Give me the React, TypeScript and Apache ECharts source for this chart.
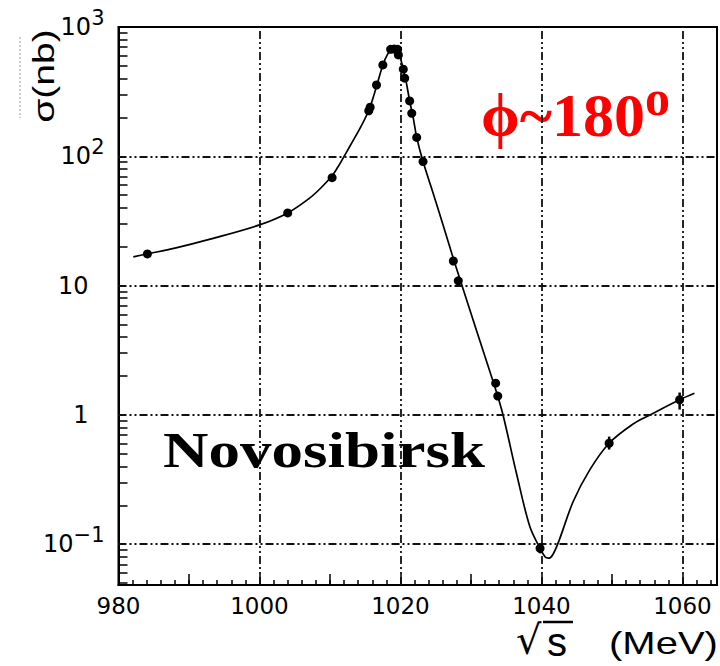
import React, { useEffect, useRef } from 'react';
import * as echarts from 'echarts';

// ---- axis ticks / labels ----
const xLabelTicks = [980, 1000, 1020, 1040, 1060];
const xMajorTicks = [980, 990, 1000, 1010, 1020, 1030, 1040, 1050, 1060];
const xMinorTicks: number[] = [];
for (let v = 980; v <= 1064; v += 2) xMinorTicks.push(v);
const xGridLines = [1000, 1020, 1040, 1060];

const yLabelTicks = [0.1, 1, 10, 100, 1000];
const yGridLines = [0.1, 1, 10, 100];
const yMinorTicks: number[] = [];
[0.01, 0.1, 1, 10, 100].forEach((d) => {
  for (let k = 2; k <= 9; k++) {
    const v = +(k * d).toPrecision(3);
    if (v >= 0.0484 && v < 1000) yMinorTicks.push(v);
  }
});

// ---- measured points (sqrt(s) in MeV, sigma in nb) ----
const pointX = [984.1, 1004.0, 1010.3, 1015.5, 1015.7, 1016.6, 1017.5, 1018.6, 1019.1, 1019.6, 1019.7,
  1020.4, 1020.6, 1021.3, 1021.6, 1022.3, 1023.2, 1027.5, 1028.2, 1033.5, 1033.8, 1039.8, 1049.6, 1059.6];
const pointY = [17.6, 36.5, 68.4, 225, 240, 356, 509, 672, 675, 672, 608,
  472, 402, 268, 215, 140, 91, 15.5, 10.9, 1.76, 1.40, 0.093, 0.604, 1.31];

// ---- error bars ----
const errX = [1039.8, 1049.6, 1059.6];
const errLow = [0.085, 0.54, 1.1];
const errHigh = [0.101, 0.68, 1.49];

// ---- fitted curve ----
const curveX = [982.1, 984.1, 988.0, 993.0, 1000.0, 1004.0, 1007.1, 1008.7, 1010.3, 1011.1, 1011.9, 1012.8,
  1014.5, 1015.6, 1016.6, 1017.5, 1018.2, 1018.8, 1019.3, 1019.8, 1020.4, 1020.8, 1021.3, 1021.8, 1022.3,
  1023.2, 1024.6, 1025.8, 1027.5, 1028.2, 1029.8, 1031.7, 1033.6, 1034.55, 1036.45, 1038.35, 1039.8,
  1040.5, 1041.0, 1041.6, 1042.5, 1044.5, 1046.85, 1049.6, 1053.0, 1055.4, 1059.6, 1061.7];
const curveY = [16.7, 17.6, 19.5, 22.9, 29.5, 36.5, 47.5, 56.9, 70.8, 82.2, 97.7, 119,
  174, 234, 347, 509, 620, 680, 690, 620, 472, 380, 268, 200, 140,
  91, 52.5, 32.4, 16.2, 12.3, 6.6, 3.16, 1.51, 1.0, 0.354, 0.137, 0.093,
  0.080, 0.078, 0.083, 0.107, 0.214, 0.376, 0.604, 0.85, 1.0, 1.31, 1.47];

const gridDash = [8, 3, 2, 3, 2, 3];

function yLabel(v: number): string {
  const e = Math.round(Math.log10(v));
  if (e === 3) return '{b|10}{s|3}';
  if (e === 2) return '{b|10}{s|2}';
  if (e === 1) return '{b|10}{p| }';
  if (e === 0) return '{b|1}{p| }';
  return '{b|10}{s|\u22121}';
}

export default function App() {
  const ref = useRef<HTMLDivElement>(null);
  useEffect(() => {
    if (!ref.current) return;
    const chart = echarts.init(ref.current, null, { renderer: 'svg' });
    const option: any = {
      animation: false,
      backgroundColor: '#fff',
      grid: {
        left: 118.5, top: 27, width: 598.5, height: 558,
        show: true, borderColor: '#000', borderWidth: 2, backgroundColor: 'transparent',
      },
      xAxis: [
        {
          type: 'value', min: 980, max: 1064.9, position: 'bottom',
          axisLine: { show: true, lineStyle: { color: '#000', width: 2 } },
          axisTick: { show: true, inside: true, length: 11, customValues: xMajorTicks, lineStyle: { color: '#000', width: 1.5 } },
          axisLabel: {
            customValues: xLabelTicks, margin: 9, color: '#000',
            fontFamily: 'DejaVu Sans', fontSize: 23,
            formatter: (v: number) => String(Math.round(v)),
          },
          splitLine: { show: false },
        },
        {
          type: 'value', min: 980, max: 1064.9, position: 'bottom', offset: 0,
          axisLine: { show: false },
          axisTick: { show: true, inside: true, length: 5, customValues: xMinorTicks, lineStyle: { color: '#000', width: 1.5 } },
          axisLabel: { show: false },
          splitLine: { show: false },
        },
      ],
      yAxis: [
        {
          type: 'log', min: 0.0484, max: 1000,
          axisLine: { show: true, lineStyle: { color: '#000', width: 2 } },
          axisTick: { show: true, inside: true, length: 9, customValues: yMinorTicks, lineStyle: { color: '#000', width: 1.5 } },
          axisLabel: {
            customValues: yLabelTicks, margin: 14, color: '#000',
            formatter: yLabel,
            padding: [0, 0, 8, 0],
            rich: {
              b: { fontFamily: 'DejaVu Sans', fontSize: 24, color: '#000', lineHeight: 32, verticalAlign: 'bottom' },
              s: { fontFamily: 'DejaVu Sans', fontSize: 21, color: '#000', lineHeight: 21, verticalAlign: 'top' },
              p: { fontFamily: 'DejaVu Sans', fontSize: 21, width: 16, lineHeight: 21, verticalAlign: 'top' },
            },
          },
          splitLine: { show: false },
          minorTick: { show: false },
        },
      ],
      series: [
        {
          type: 'line',
          xAxisIndex: 0, yAxisIndex: 0,
          data: curveX.map((x, i) => [x, curveY[i]]),
          smooth: 0.35,
          symbol: 'none',
          lineStyle: { color: '#000', width: 1.7 },
          z: 3,
          markLine: {
            silent: true,
            symbol: 'none',
            label: { show: false },
            lineStyle: { color: '#111', width: 1.8, type: gridDash },
            data: [
              ...yGridLines.map((v) => ({ yAxis: v })),
              ...xGridLines.map((v) => ({ xAxis: v })),
            ],
          },
        },
        {
          type: 'scatter',
          xAxisIndex: 0, yAxisIndex: 0,
          data: pointX.map((x, i) => [x, pointY[i]]),
          symbol: 'circle',
          symbolSize: 9,
          itemStyle: { color: '#000', opacity: 1 },
          z: 5,
        },
        {
          type: 'custom',
          xAxisIndex: 0, yAxisIndex: 0,
          data: errX.map((x, i) => [x, errLow[i], errHigh[i]]),
          encode: { x: 0, y: [1, 2] },
          renderItem: (params: any, api: any) => {
            const x = api.value(0);
            const lo = api.coord([x, api.value(1)]);
            const hi = api.coord([x, api.value(2)]);
            return {
              type: 'line',
              shape: { x1: lo[0], y1: lo[1], x2: hi[0], y2: hi[1] },
              style: { stroke: '#000', lineWidth: 2.5 },
            };
          },
          z: 6,
        },
      ],
      graphic: [
        {
          type: 'line', silent: true,
          shape: { x1: 20, y1: 37, x2: 20, y2: 118 },
          style: { stroke: '#999', lineWidth: 1, lineDash: [2, 2] },
        },
        {
          type: 'text', x: 44, y: 76, rotation: Math.PI / 2, scaleX: 1.3,
          style: { text: 'σ(nb)', font: '30px "Liberation Sans", Arial, sans-serif', fill: '#000', align: 'center', verticalAlign: 'middle' },
        },
        {
          type: 'text', x: 163, y: 450, scaleX: 1.26,
          style: { text: 'Novosibirsk', font: 'bold 50px "Liberation Serif", "Times New Roman", serif', fill: '#000', align: 'left', verticalAlign: 'middle' },
        },
        {
          type: 'text', x: 481, y: 115,
          style: { text: 'ϕ~180', font: 'bold 62px "Liberation Serif", "DejaVu Serif", serif', fill: '#ff0000', align: 'left', verticalAlign: 'middle' },
        },
        {
          type: 'text', x: 645, y: 98,
          style: { text: 'o', font: 'bold 50px "Liberation Serif", serif', fill: '#ff0000', align: 'left', verticalAlign: 'middle' },
        },
        {
          type: 'text', x: 516, y: 640,
          style: { text: '√', font: '40px "DejaVu Sans", sans-serif', fill: '#000', align: 'left', verticalAlign: 'middle' },
        },
        {
          type: 'line', silent: true,
          shape: { x1: 543, y1: 622, x2: 573, y2: 622 },
          style: { stroke: '#000', lineWidth: 2.5 },
        },
        {
          type: 'text', x: 547, y: 642,
          style: { text: 's', font: '40px "Liberation Sans", Arial, sans-serif', fill: '#000', align: 'left', verticalAlign: 'middle' },
        },
        {
          type: 'text', x: 609, y: 643, scaleX: 1.25,
          style: { text: '(MeV)', font: '32px "Liberation Sans", Arial, sans-serif', fill: '#000', align: 'left', verticalAlign: 'middle' },
        },
      ],
    };
    chart.setOption(option);
    return () => chart.dispose();
  }, []);
  return (
    <div
      ref={ref}
      style={{ position: 'fixed', left: 0, top: 0, width: 720, height: 666, background: '#fff' }}
    />
  );
}
